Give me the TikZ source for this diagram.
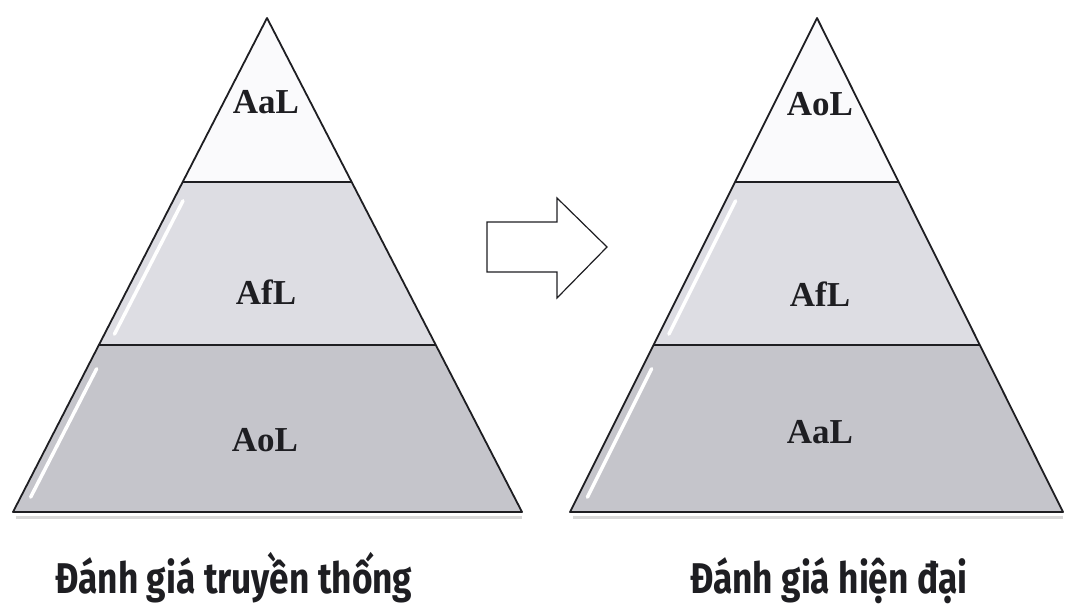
\documentclass[tikz,border=0pt]{standalone}
\usepackage{fontspec}
\setmainfont{Liberation Serif}
\newfontfamily\capfont[FakeStretch=0.82]{Fira Sans}
\usepackage{xcolor}
\usepackage{tikz}
\usetikzlibrary{calc}

\definecolor{tiertop}{RGB}{250,250,252}
\definecolor{tiermid}{RGB}{221,221,227}
\definecolor{tierlow}{RGB}{197,197,203}
\definecolor{edge}{RGB}{30,30,34}

\tikzset{
  outline/.style={draw=edge, line width=1.8pt, line join=round},
  gleam/.style={white, line width=3.5pt, line cap=round},
  shade/.style={black!30, line width=3pt, opacity=0.5},
  tierlabel/.style={font=\bfseries\fontsize{35}{35}\selectfont, text=edge},
  caption/.style={anchor=base, text=edge, font=\capfont\bfseries\fontsize{43}{43}\selectfont},
}

\begin{document}
\begin{tikzpicture}[x=1pt, y=-1pt]
    \useasboundingbox (0,0) rectangle (1065,607);

    % left pyramid
    \coordinate (lt) at (267,18);
    \coordinate (ll) at (13,512);
    \coordinate (lr) at (522,512);
    \coordinate (l1a) at ($(lt)!0.332!(ll)$);
    \coordinate (l1b) at ($(lt)!0.332!(lr)$);
    \coordinate (l2a) at ($(lt)!0.662!(ll)$);
    \coordinate (l2b) at ($(lt)!0.662!(lr)$);

    \draw[shade] ($(ll)+(3,5)$) -- ($(lr)+(0,5)$);
    \fill[tiertop] (lt) -- (l1b) -- (l1a) -- cycle;
    \fill[tiermid] (l1a) -- (l1b) -- (l2b) -- (l2a) -- cycle;
    \fill[tierlow] (l2a) -- (l2b) -- (lr) -- (ll) -- cycle;
    \draw[gleam] ($(lt)!0.37!(ll)+(10,0)$) -- ($(lt)!0.64!(ll)+(10,0)$);
    \draw[gleam] ($(lt)!0.71!(ll)+(10,0)$) -- ($(lt)!0.97!(ll)+(10,0)$);
    \draw[outline] (lt) -- (lr) -- (ll) -- cycle;
    \draw[outline] (l1a) -- (l1b);
    \draw[outline] (l2a) -- (l2b);

    \node[tierlabel] (laal) at (266,102) {AaL};
    \node[tierlabel] (lafl) at (266,292) {AfL};
    \node[tierlabel] (laol) at (265,440) {AoL};

    % right pyramid
    \coordinate (rt) at (817,18);
    \coordinate (rl) at (570,512);
    \coordinate (rr) at (1063,512);
    \coordinate (r1a) at ($(rt)!0.332!(rl)$);
    \coordinate (r1b) at ($(rt)!0.332!(rr)$);
    \coordinate (r2a) at ($(rt)!0.662!(rl)$);
    \coordinate (r2b) at ($(rt)!0.662!(rr)$);

    \draw[shade] ($(rl)+(3,5)$) -- ($(rr)+(0,5)$);
    \fill[tiertop] (rt) -- (r1b) -- (r1a) -- cycle;
    \fill[tiermid] (r1a) -- (r1b) -- (r2b) -- (r2a) -- cycle;
    \fill[tierlow] (r2a) -- (r2b) -- (rr) -- (rl) -- cycle;
    \draw[gleam] ($(rt)!0.37!(rl)+(10,0)$) -- ($(rt)!0.64!(rl)+(10,0)$);
    \draw[gleam] ($(rt)!0.71!(rl)+(10,0)$) -- ($(rt)!0.97!(rl)+(10,0)$);
    \draw[outline] (rt) -- (rr) -- (rl) -- cycle;
    \draw[outline] (r1a) -- (r1b);
    \draw[outline] (r2a) -- (r2b);

    \node[tierlabel] (raol) at (820,104) {AoL};
    \node[tierlabel] (rafl) at (820,294) {AfL};
    \node[tierlabel] (raal) at (820,432) {AaL};

    % block arrow between them
    \draw[draw=edge, line width=1.2pt, fill=white, line join=miter]
        (487,222) -- (557,222) -- (557,198) -- (607,247)
        -- (557,298) -- (557,272) -- (487,272) -- cycle;

    \node[caption] (lcap) at (234,593) {Đánh giá truyền thống};
    \node[caption] (rcap) at (829,593) {Đánh giá hiện đại};
\end{tikzpicture}
\end{document}
